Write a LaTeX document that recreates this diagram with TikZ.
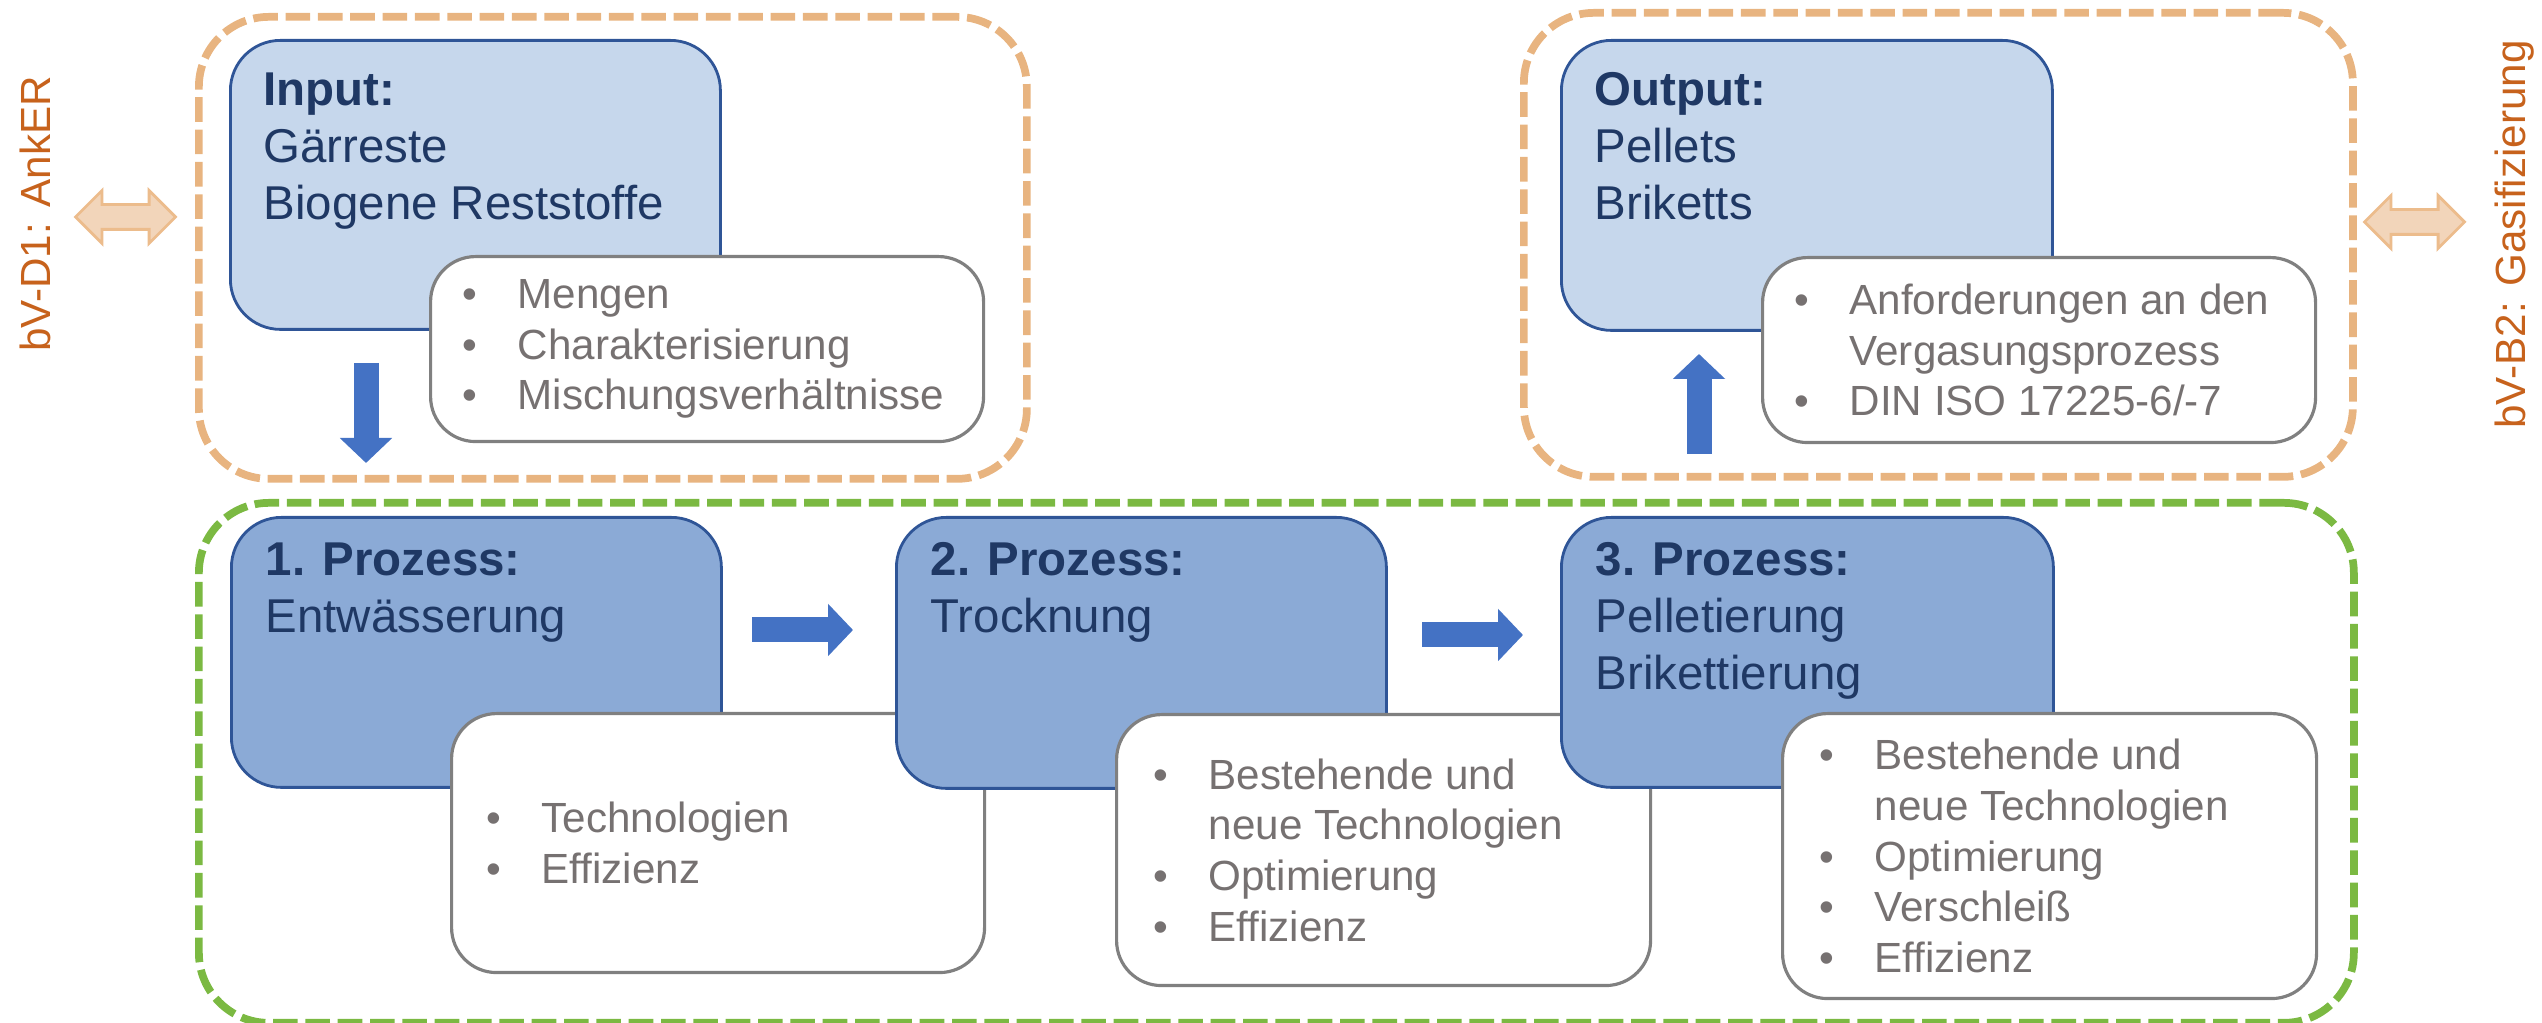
\documentclass[tikz,border=0pt]{standalone}
\usepackage{fontspec}
\setmainfont{Liberation Sans}
\usetikzlibrary{shapes.arrows,arrows.meta}
\definecolor{grporange}{RGB}{232,180,128}
\definecolor{grpgreen}{RGB}{123,185,66}
\definecolor{boxline}{RGB}{47,85,151}
\definecolor{iofill}{RGB}{198,215,236}
\definecolor{procfill}{RGB}{139,170,214}
\definecolor{navytext}{RGB}{31,56,100}
\definecolor{notegray}{RGB}{128,128,128}
\definecolor{notetext}{RGB}{118,113,113}
\definecolor{flowblue}{RGB}{68,114,196}
\definecolor{linkfill}{RGB}{242,213,186}
\definecolor{linkline}{RGB}{236,188,140}
\definecolor{sidetext}{RGB}{199,98,28}
\newcommand{\notebul}{\makebox[5.5mm][l]{\textbullet}}
\newcommand{\noteind}{\hspace*{5.5mm}}

\begin{document}
\begin{tikzpicture}[
    grp/.style={draw, line width=2.2pt, dash pattern=on 7pt off 2.2pt, rounded corners=7mm, anchor=north west, inner sep=0},
    mainbox/.style={draw=boxline, line width=0.8pt, rounded corners=5mm, anchor=north west, inner sep=0},
    notebox/.style={draw=notegray, fill=white, line width=0.9pt, rounded corners=4.5mm, anchor=north west, inner sep=0},
    boxtext/.style={anchor=north west, inner sep=0, align=left, text=navytext, font=\fontsize{13.5}{16.2}\selectfont},
    notelist/.style={anchor=west, inner sep=0, align=left, text=notetext, font=\fontsize{12}{14.4}\selectfont},
    flow/.style={draw=flowblue, line width=2.5mm, -{Triangle[length=2.5mm,width=5.1mm]}},
    link/.style={double arrow, draw=linkline, fill=linkfill, line width=0.8pt, inner sep=1.1mm, double arrow head extend=1.4mm, minimum height=1cm},
    sidelabel/.style={rotate=90, inner sep=0, text=sidetext, font=\fontsize{12}{14}\selectfont}
]
\useasboundingbox (0,0) rectangle (25.42,-10.23);

\node[grp, draw=grporange, minimum width=8.28cm, minimum height=4.62cm] (ingrp) at (1.95,-0.13) {};
\node[grp, draw=grporange, minimum width=8.29cm, minimum height=4.64cm] (outgrp) at (15.20,-0.09) {};
\node[grp, draw=grpgreen, minimum width=21.55cm, minimum height=5.20cm] (procgrp) at (1.95,-4.99) {};

\node[mainbox, fill=iofill, minimum width=4.90cm, minimum height=2.89cm] (inbox) at (2.29,-0.39) {};
\node[boxtext] (intxt) at ([shift={(0.34,-0.33)}]inbox.north west) {\textbf{Input:}\\Gärreste\\Biogene Reststoffe};
\node[notebox, minimum width=5.53cm, minimum height=1.85cm] (innote) at (4.29,-2.55) {};
\node[notelist] (inlist) at ([xshift=0.33cm]innote.west) {\notebul Mengen\\\notebul Charakterisierung\\\notebul Mischungsverhältnisse};

\node[mainbox, fill=iofill, minimum width=4.91cm, minimum height=2.90cm] (outbox) at (15.60,-0.39) {};
\node[boxtext] (outtxt) at ([shift={(0.34,-0.33)}]outbox.north west) {\textbf{Output:}\\Pellets\\Briketts};
\node[notebox, minimum width=5.53cm, minimum height=1.85cm] (outnote) at (17.61,-2.56) {};
\node[notelist] (outlist) at ([xshift=0.33cm]outnote.west) {\notebul Anforderungen an den\\\noteind Vergasungsprozess\\\notebul DIN ISO 17225-6/-7};

\node[mainbox, fill=procfill, minimum width=4.90cm, minimum height=2.70cm] (p1) at (2.30,-5.16) {};
\node[boxtext] (p1txt) at ([shift={(0.35,-0.26)}]p1.north west) {\textbf{1. Prozess:}\\Entwässerung};
\node[notebox, minimum width=5.33cm, minimum height=2.59cm] (n1) at (4.50,-7.12) {};
\node[notelist] (n1list) at ([xshift=0.36cm]n1.west) {\notebul Technologien\\\notebul Effizienz};

\node[mainbox, fill=procfill, minimum width=4.90cm, minimum height=2.71cm] (p2) at (8.95,-5.16) {};
\node[boxtext] (p2txt) at ([shift={(0.35,-0.26)}]p2.north west) {\textbf{2. Prozess:}\\Trocknung};
\node[notebox, minimum width=5.34cm, minimum height=2.71cm] (n2) at (11.15,-7.13) {};
\node[notelist] (n2list) at ([xshift=0.38cm]n2.west) {\notebul Bestehende und\\\noteind neue Technologien\\\notebul Optimierung\\\notebul Effizienz};

\node[mainbox, fill=procfill, minimum width=4.92cm, minimum height=2.70cm] (p3) at (15.60,-5.16) {};
\node[boxtext] (p3txt) at ([shift={(0.35,-0.26)}]p3.north west) {\textbf{3. Prozess:}\\Pelletierung\\Brikettierung};
\node[notebox, minimum width=5.34cm, minimum height=2.85cm] (n3) at (17.81,-7.12) {};
\node[notelist] (n3list) at ([xshift=0.38cm]n3.west) {\notebul Bestehende und\\\noteind neue Technologien\\\notebul Optimierung\\\notebul Verschleiß\\\notebul Effizienz};

\coordinate (downs) at (3.66,-3.63);
\coordinate (downe) at (3.66,-4.63);
\coordinate (ups) at (16.99,-4.54);
\coordinate (upe) at (16.99,-3.54);
\coordinate (r1s) at (7.52,-6.30);
\coordinate (r1e) at (8.53,-6.30);
\coordinate (r2s) at (14.22,-6.35);
\coordinate (r2e) at (15.23,-6.35);
\draw[flow] (downs) -- (downe);
\draw[flow] (ups) -- (upe);
\draw[flow] (r1s) -- (r1e);
\draw[flow] (r2s) -- (r2e);

\node[link] (linkin) at (1.255,-2.17) {};
\node[link] (linkout) at (24.145,-2.22) {};
\node[sidelabel] (sidein) at (0.355,-2.14) {bV-D1: AnkER};
\node[sidelabel] (sideout) at (25.145,-2.345) {bV-B2: Gasifizierung};

\end{tikzpicture}
\end{document}
